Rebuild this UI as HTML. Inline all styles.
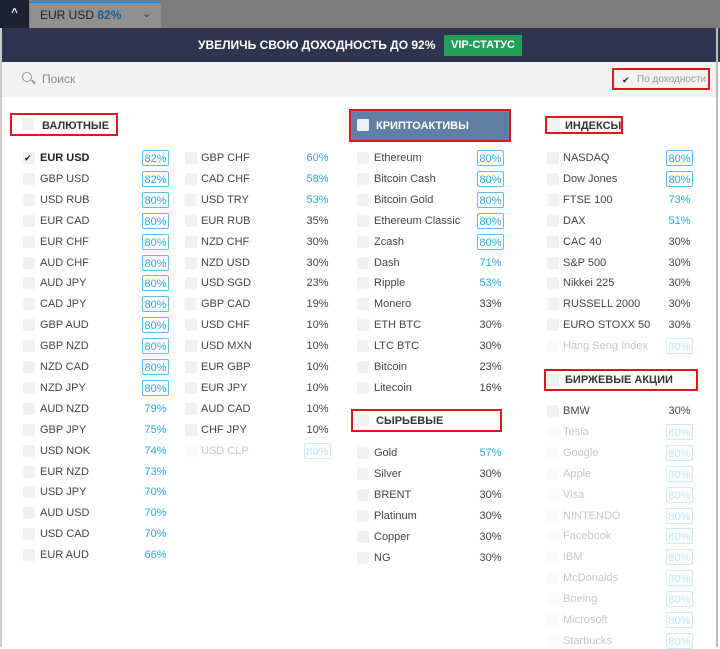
<!DOCTYPE html>
<html><head><meta charset="utf-8"><style>
body{margin:0;width:720px;height:647px;overflow:hidden;background:#fff;font-family:"Liberation Sans","DejaVu Sans",sans-serif;position:relative}
div{position:absolute;box-sizing:border-box}
.t{font-size:11px;color:#444;white-space:nowrap;line-height:14px}
.cb{width:12px;height:12px;background:#f1f1f1;border-radius:1px}
.p{font-size:11px;line-height:14px;text-align:center;width:27px;height:16px;padding-top:1px}
.bx{border:1px solid #5bbdf0;border-radius:2px;color:#2aa8e8}
.bl{color:#2aa8e8}
.gr{color:#444}
.f{opacity:.3}
.red{border:2px solid #e5141c}
.h{font-size:11px;font-weight:bold;color:#333;line-height:14px}
</style></head><body>
<div style="left:0;top:0;width:720px;height:28px;background:#7c7c7c"></div>
<div style="left:0;top:0;width:29px;height:28px;background:#1c2232;color:#fff;font-size:11px;text-align:center;line-height:26px;font-weight:bold">^</div>
<div style="left:30px;top:2px;width:131px;height:26px;background:#909090;border-top:1px solid #2a7bbf"></div>
<div class="t" style="left:40px;top:8px;font-size:12px;color:#222">EUR USD <span style="color:#1d5e90;font-weight:bold">82%</span></div>
<div class="t" style="left:142px;top:7px;color:#333">⌄</div>
<div style="left:0;top:28px;width:720px;height:34px;background:#30354f"></div>
<div style="left:198px;top:38px;font-size:12px;font-weight:bold;color:#fff;white-space:nowrap">УВЕЛИЧЬ СВОЮ ДОХОДНОСТЬ ДО 92%</div>
<div style="left:444px;top:35px;width:78px;height:21px;background:#22a05a;color:#fff;font-size:11px;font-weight:bold;text-align:center;line-height:21px">VIP-СТАТУС</div>
<div style="left:2px;top:62px;width:715px;height:35px;background:#f2f2f2"></div>
<div style="left:22px;top:72px;width:10px;height:10px;border:1.5px solid #999;border-radius:50%"></div>
<div style="left:31px;top:81px;width:5px;height:1.5px;background:#999;transform:rotate(45deg)"></div>
<div class="t" style="left:42px;top:72px;font-size:12px;color:#888">Поиск</div>
<div class="red" style="left:612px;top:68px;width:98px;height:22px"></div>
<div class="t" style="left:622px;top:73px;font-size:9px;color:#222">✔</div>
<div class="t" style="left:637px;top:73px;font-size:10px;color:#999">По доходности</div>
<div style="left:716px;top:28px;width:2px;height:619px;background:#bbb"></div>
<div style="left:0;top:28px;width:2px;height:619px;background:#ccc"></div>

<div class="red" style="left:10px;top:113px;width:108px;height:23px"></div>
<div class="cb" style="left:22px;top:118px"></div>
<div class="h" style="left:42px;top:119px">ВАЛЮТНЫЕ</div>
<div class="red" style="left:349px;top:109px;width:162px;height:33px;background:#5f7fa4"></div>
<div class="cb" style="left:357px;top:119px;background:#eef2f7"></div>
<div class="h" style="left:376px;top:119px;color:#fff">КРИПТОАКТИВЫ</div>
<div class="red" style="left:545px;top:116px;width:78px;height:18px"></div>
<div class="cb" style="left:548px;top:119px"></div>
<div class="h" style="left:565px;top:119px">ИНДЕКСЫ</div>
<div class="red" style="left:351px;top:409px;width:151px;height:23px"></div>
<div class="cb" style="left:357px;top:414px"></div>
<div class="h" style="left:376px;top:414px">СЫРЬЕВЫЕ</div>
<div class="red" style="left:544px;top:369px;width:154px;height:22px"></div>
<div class="cb" style="left:547px;top:374px"></div>
<div class="h" style="left:565px;top:373px">БИРЖЕВЫЕ АКЦИИ</div>

<div id="rows"></div>
<script>
function col(cx,lx,px,y0,step,items){
 var h='';items.forEach(function(it,i){var y=Math.round(y0+i*step);var f=it[3]?' f':'';
 h+='<div class="cb'+f+'" style="left:'+cx+'px;top:'+(y-6)+'px"></div>';
 if(it[4])h+='<div class="t" style="left:'+(cx+1)+'px;top:'+(y-7)+'px;font-size:9px;color:#222">✔</div>';
 h+='<div class="t'+f+'" style="left:'+lx+'px;top:'+(y-7)+'px;'+(it[4]?'font-weight:bold;color:#222':'')+'">'+it[0]+'</div>';
 h+='<div class="p '+it[2]+f+'" style="left:'+px+'px;top:'+(y-8)+'px">'+it[1]+'</div>';});
 document.getElementById('rows').innerHTML+=h;}
var B='bx',L='bl',G='gr';
col(23,40,142,158,20.9,[["EUR USD","82%",B,0,1],["GBP USD","82%",B],["USD RUB","80%",B],["EUR CAD","80%",B],["EUR CHF","80%",B],["AUD CHF","80%",B],["AUD JPY","80%",B],["CAD JPY","80%",B],["GBP AUD","80%",B],["GBP NZD","80%",B],["NZD CAD","80%",B],["NZD JPY","80%",B],["AUD NZD","79%",L],["GBP JPY","75%",L],["USD NOK","74%",L],["EUR NZD","73%",L],["USD JPY","70%",L],["AUD USD","70%",L],["USD CAD","70%",L],["EUR AUD","66%",L]]);
col(185,201,304,158,20.9,[["GBP CHF","60%",L],["CAD CHF","58%",L],["USD TRY","53%",L],["EUR RUB","35%",G],["NZD CHF","30%",G],["NZD USD","30%",G],["USD SGD","23%",G],["GBP CAD","19%",G],["USD CHF","10%",G],["USD MXN","10%",G],["EUR GBP","10%",G],["EUR JPY","10%",G],["AUD CAD","10%",G],["CHF JPY","10%",G],["USD CLP","80%",B,1]]);
col(357,374,477,158,20.9,[["Ethereum","80%",B],["Bitcoin Cash","80%",B],["Bitcoin Gold","80%",B],["Ethereum Classic","80%",B],["Zcash","80%",B],["Dash","71%",L],["Ripple","53%",L],["Monero","33%",G],["ETH BTC","30%",G],["LTC BTC","30%",G],["Bitcoin","23%",G],["Litecoin","16%",G]]);
col(357,374,477,453,20.9,[["Gold","57%",L],["Silver","30%",G],["BRENT","30%",G],["Platinum","30%",G],["Copper","30%",G],["NG","30%",G]]);
col(547,563,666,158,20.9,[["NASDAQ","80%",B],["Dow Jones","80%",B],["FTSE 100","73%",L],["DAX","51%",L],["CAC 40","30%",G],["S&amp;P 500","30%",G],["Nikkei 225","30%",G],["RUSSELL 2000","30%",G],["EURO STOXX 50","30%",G],["Hang Seng Index","80%",B,1]]);
col(547,563,666,411,20.9,[["BMW","30%",G],["Tesla","80%",B,1],["Google","80%",B,1],["Apple","80%",B,1],["Visa","80%",B,1],["NINTENDO","80%",B,1],["Facebook","80%",B,1],["IBM","80%",B,1],["McDonalds","80%",B,1],["Boeing","80%",B,1],["Microsoft","80%",B,1],["Starbucks","80%",B,1]]);
</script>
</body></html>
